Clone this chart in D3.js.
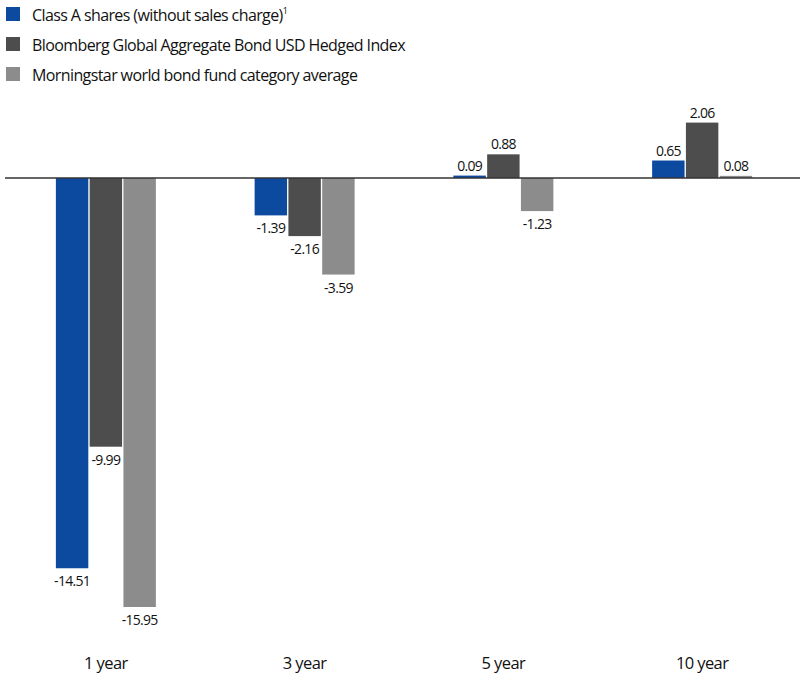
<!DOCTYPE html>
<html>
<head>
<meta charset="utf-8">
<script src="https://cdn.jsdelivr.net/npm/d3@7"></script>
<style>
body { margin: 0; background: #fff; }
svg { display: block; font-family: "Open Sans", sans-serif; }
</style>
</head>
<body>
<svg id="chart" width="800" height="675"></svg>
<script>
const categories = ["1 year", "3 year", "5 year", "10 year"];
const seriesNames = ["Class A shares (without sales charge)", "Bloomberg Global Aggregate Bond USD Hedged Index", "Morningstar world bond fund category average"];
const seriesColors = ["#0c4a9f", "#4d4d4d", "#8c8c8c"];
const classA = [-14.51, -1.39, 0.09, 0.65];
const bloomberg = [-9.99, -2.16, 0.88, 2.06];
const morningstar = [-15.95, -3.59, -1.23, 0.08];
const seriesValues = [classA, bloomberg, morningstar];

const svg = d3.select("#chart");

const x0 = d3.scaleBand().domain(categories).range([6.5, 801.5]).padding(0);
const groupW = 100;
const x1 = d3.scaleBand().domain(d3.range(seriesNames.length))
  .range([x0.bandwidth() / 2 - groupW / 2, x0.bandwidth() / 2 + groupW / 2]).paddingInner(0.04);
const y = d3.scaleLinear().domain([-15.95, 2.06]).range([607, 122.6]);

// bars
categories.forEach((c, ci) => {
  const g = svg.append("g").attr("transform", `translate(${x0(c)},0)`);
  seriesValues.forEach((vals, si) => {
    const v = vals[ci];
    g.append("rect")
      .attr("x", x1(si))
      .attr("width", x1.bandwidth())
      .attr("y", Math.min(y(v), y(0)))
      .attr("height", Math.abs(y(v) - y(0)))
      .attr("fill", seriesColors[si]);
    g.append("text")
      .attr("x", x1(si) + x1.bandwidth() / 2)
      .attr("y", v >= 0 ? y(v) - 5 : y(v) + 18)
      .attr("text-anchor", "middle")
      .attr("font-size", 14)
      .attr("fill", "#111")
      .attr("letter-spacing", -0.7)
      .text(v.toFixed(2));
  });
});

// zero line
svg.append("line")
  .attr("x1", 5).attr("x2", 800)
  .attr("y1", y(0)).attr("y2", y(0))
  .attr("stroke", "#333").attr("stroke-width", 1.5);

// category axis
const xAxis = d3.axisBottom(x0).tickSize(0).tickPadding(0);
const ax = svg.append("g").attr("transform", "translate(0,657)").call(xAxis);
ax.select(".domain").remove();
ax.selectAll("text").attr("font-size", 16.5).attr("fill", "#111")
  .attr("font-family", "Open Sans, sans-serif").attr("letter-spacing", -0.6);

// legend
const legend = svg.append("g");
seriesNames.forEach((n, i) => {
  const gy = 7 + i * 30;
  legend.append("rect").attr("x", 6).attr("y", gy).attr("width", 14).attr("height", 14)
    .attr("fill", seriesColors[i]);
  const t = legend.append("text").attr("x", 32).attr("y", gy + 14)
    .attr("font-size", 16).attr("fill", "#111").attr("letter-spacing", -0.6).text(n);
  if (i === 0) {
    t.append("tspan").attr("dy", -7).attr("font-size", 9).text("1");
  }
});
</script>
</body>
</html>
